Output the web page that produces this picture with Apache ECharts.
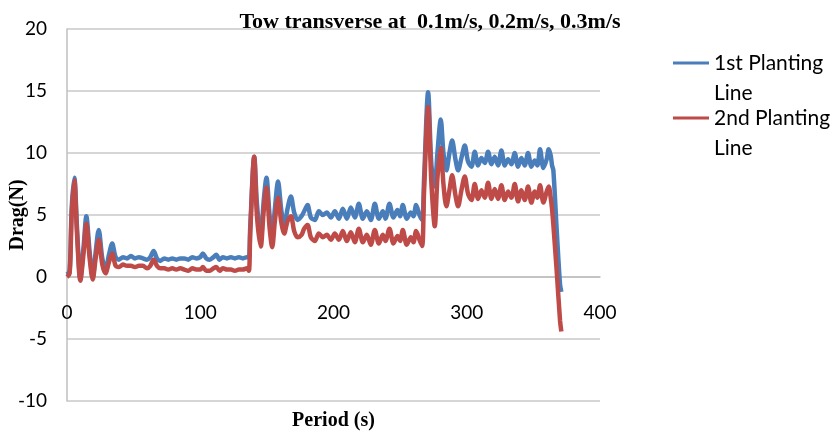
<!DOCTYPE html>
<html>
<head>
<meta charset="utf-8">
<script src="https://cdn.jsdelivr.net/npm/echarts@6/dist/echarts.min.js"></script>
<style>
  html, body { margin: 0; padding: 0; background: #fff; }
  #chart { width: 833px; height: 435px; }
</style>
</head>
<body>
<div id="chart"></div>
<script>
// period (s), shared by both lines
var periodSec = [
  0, 2, 3.5, 5.5, 7.5, 10, 12.5, 14.5, 17, 19.3, 21.5, 23.8, 26.5, 28.9, 31.5, 33.9, 36.5, 39,
  42, 45, 48, 51, 54, 57, 60, 62.5, 65, 67.5, 70, 73, 76, 79, 82, 85, 88, 91, 94, 97, 100,
  102, 104.5, 107, 110, 112, 114.5, 117, 120, 123, 126, 129, 132, 135, 136.5,
  137.5, 140.5, 142.5, 145.4, 147.5, 149.7, 152, 154, 156, 158.4, 160.7, 163, 165.5, 168,
  170.5, 173, 176, 178, 180.5, 183, 186, 189, 192, 195, 198, 201, 204, 207, 210, 213, 216,
  219, 222, 225, 228, 231, 234, 237, 239, 242, 245, 248, 250, 252, 255, 258, 260, 262,
  264.5, 266.5, 268, 271, 273.5, 276, 278, 280.5, 282.5, 284.7, 287, 289, 291.5, 293.5,
  296, 298.5, 301, 303.5, 306, 308.5, 311, 313.5, 316, 318.5, 321, 323.5, 326, 328.5, 331,
  333.5, 336, 338.5, 341, 343.5, 346, 348.5, 351, 353, 355, 357.5, 360, 361.5, 363, 364,
  365, 367.5, 370, 371
];
// 1st Planting Line drag (N)
var line1 = [
  0.2, 0.5, 5.5, 8.0, 4.0, -0.1, 2.5, 4.9, 2.0, 0.0, 2.0, 3.8, 1.5, 0.6, 1.8, 2.7, 1.6, 1.4,
  1.6, 1.5, 1.7, 1.5, 1.6, 1.5, 1.4, 1.6, 2.1, 1.5, 1.3, 1.5, 1.4, 1.5, 1.4, 1.5, 1.5, 1.4, 1.6, 1.5, 1.6,
  1.9, 1.5, 1.4, 1.6, 1.8, 1.4, 1.6, 1.5, 1.6, 1.5, 1.6, 1.5, 1.6, 1.6,
  4.0, 9.7, 6.0, 3.0, 6.0, 8.0, 5.0, 3.2, 5.5, 7.7, 5.5, 4.05, 5.5, 6.5,
  5.2, 4.6, 4.9, 5.3, 5.8, 4.8, 4.6, 5.3, 5.0, 5.2, 4.8, 5.3, 4.7, 5.5, 4.7, 5.6, 4.8,
  5.9, 4.7, 5.3, 4.6, 5.9, 4.7, 5.3, 4.7, 5.9, 4.8, 5.4, 4.9, 5.8, 4.7, 5.2, 4.9, 5.8,
  5.0, 4.6, 8.0, 14.9, 9.0, 7.3, 10.0, 12.7, 10.0, 8.6, 10.0, 11.0, 9.5, 8.6,
  9.6, 10.6, 9.3, 8.9, 10.1, 9.0, 9.6, 9.2, 10.1, 9.1, 9.7, 9.0, 10.2, 9.0, 9.5,
  9.1, 10.0, 8.9, 9.6, 9.0, 10.0, 8.9, 9.4, 9.0, 10.3, 8.8, 9.5, 10.3, 9.8, 9.0,
  8.6, 3.8, -0.6, -1.2
];
// 2nd Planting Line drag (N)
var line2 = [
  0.0, 0.3, 5.0, 7.8, 3.5, -0.3, 2.0, 4.3, 1.5, -0.2, 1.5, 3.0, 1.0, 0.3, 1.2, 1.9, 0.9, 0.8,
  1.0, 0.9, 0.9, 0.8, 0.9, 0.9, 0.7, 0.9, 1.4, 0.9, 0.7, 0.7, 0.6, 0.7, 0.6, 0.7, 0.6, 0.5, 0.7, 0.6, 0.6,
  0.8, 0.5, 0.5, 0.7, 0.8, 0.5, 0.7, 0.6, 0.6, 0.5, 0.6, 0.6, 0.7, 0.5,
  3.5, 9.7, 5.0, 2.45, 5.2, 7.2, 4.0, 2.4, 4.5, 6.4, 4.5, 3.5, 4.5, 4.9,
  3.7, 3.2, 3.4, 3.9, 4.2, 3.2, 2.9, 3.5, 3.2, 3.4, 3.0, 3.5, 3.0, 3.7, 2.9, 3.6, 2.8,
  3.9, 2.8, 3.4, 2.6, 3.8, 2.7, 3.4, 2.9, 3.9, 2.7, 3.3, 2.9, 3.8, 2.6, 3.2, 2.8, 3.7,
  3.0, 2.5, 7.0, 13.7, 7.5, 4.1, 8.0, 10.4, 7.5, 5.7, 7.0, 8.2, 6.6, 5.7,
  7.0, 8.1, 6.7, 6.2, 7.5, 6.3, 7.0, 6.4, 7.6, 6.3, 7.1, 6.3, 7.4, 6.2, 6.9,
  6.4, 7.5, 6.1, 7.0, 6.2, 7.3, 6.0, 6.9, 6.4, 7.4, 6.0, 6.9, 7.3, 6.4, 5.5,
  4.2, 0.5, -3.5, -4.4
];
var seriesNames = ['1st Planting Line', '2nd Planting Line'];
var yTicks = [-10, 20, 5];
var xTicks = [0, 400, 100];

var pairs = function (ys) {
  return periodSec.map(function (x, i) { return [x, ys[i]]; });
};

var myChart = echarts.init(document.getElementById('chart'));
myChart.setOption({
  animation: false,
  title: {
    text: 'Tow transverse at  0.1m/s, 0.2m/s, 0.3m/s',
    left: 425, top: 6, textAlign: 'center',
    textStyle: { fontFamily: 'Liberation Serif', fontWeight: 'bold', fontSize: 22, color: '#000' }
  },
  legend: {
    orient: 'vertical',
    left: 668, top: 13,
    itemWidth: 36, itemHeight: 14, itemGap: -35,
    icon: 'path://M0,5.5 L36,5.5 L36,8.5 L0,8.5 Z',
    data: seriesNames,
    // blank first line so the sample sits beside the first text line
    formatter: function (n) { return ' \n' + n.replace(' Line', '\nLine'); },
    textStyle: { fontFamily: 'Lato', fontSize: 21, color: '#000', lineHeight: 30 }
  },
  grid: { left: 67, right: 233, top: 29, bottom: 34, outerBoundsMode: 'none', containLabel: false },
  xAxis: {
    type: 'value', min: xTicks[0], max: xTicks[1], interval: xTicks[2],
    // x axis sits on the zero line (124px above the grid bottom)
    position: 'bottom', offset: -124,
    name: 'Period (s)', nameLocation: 'middle', nameGap: 134, nameMoveOverlap: false,
    nameTextStyle: { fontFamily: 'Liberation Serif', fontWeight: 'bold', fontSize: 20, color: '#000' },
    axisLine: { onZero: false, lineStyle: { color: '#bfbfbf', width: 1.5 } },
    axisTick: { show: false },
    splitLine: { show: false },
    axisLabel: { margin: 26, fontFamily: 'Lato', fontSize: 19, color: '#000' }
  },
  yAxis: {
    type: 'value', min: yTicks[0], max: yTicks[1], interval: yTicks[2],
    name: 'Drag(N)', nameLocation: 'middle', nameGap: 39, nameMoveOverlap: false,
    nameTextStyle: { fontFamily: 'Liberation Serif', fontWeight: 'bold', fontSize: 20, color: '#000' },
    axisLine: { show: true, onZero: false, lineStyle: { color: '#bfbfbf', width: 1.5 } },
    axisTick: { show: false },
    splitLine: { lineStyle: { color: '#c8c8c8', width: 1.5 } },
    axisLabel: { margin: 20, fontFamily: 'Lato', fontSize: 19, color: '#000' }
  },
  series: [
    {
      name: seriesNames[0], type: 'line', data: pairs(line1),
      showSymbol: false, smooth: 0.3,
      itemStyle: { color: '#4a7ebb' },
      lineStyle: { color: '#4a7ebb', width: 4.5 }
    },
    {
      name: seriesNames[1], type: 'line', data: pairs(line2),
      showSymbol: false, smooth: 0.3,
      itemStyle: { color: '#be4b48' },
      lineStyle: { color: '#be4b48', width: 4.5 }
    }
  ]
});
</script>
</body>
</html>
